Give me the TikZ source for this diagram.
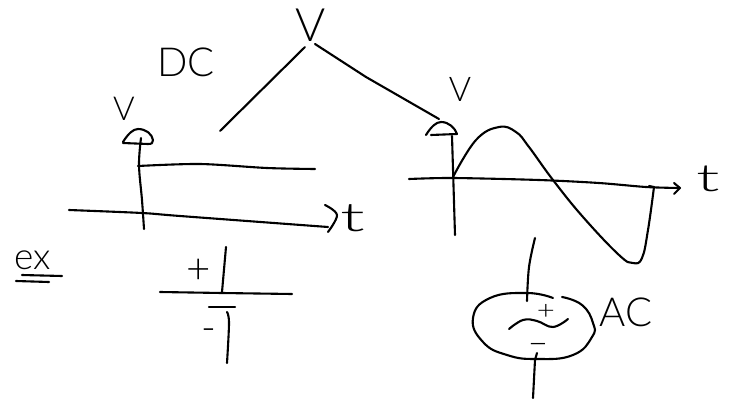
\documentclass[tikz,border=0pt]{standalone}
\usepackage{fontspec}
\setmainfont{Lato Light}
\tikzset{
  ink/.style={line width=2.1pt,line cap=round,line join=round,black},
  label/.style={inner sep=0pt,outer sep=0pt,text=black},
}
\newcommand{\fs}[1]{\fontsize{#1}{#1}\selectfont}
\begin{document}
\begin{tikzpicture}[x=1pt,y=-1pt]
\useasboundingbox (0,0) rectangle (732,399);
% labels
\node[label] (vtop) at (311,25) {\fs{46}V};
\node[label] (dc) at (186,62) {\fs{40}DC};
\node[label] (vleft) at (124,109) {\fs{33}V};
\node[label] (vright) at (460,89) {\fs{34}V};
\node[label] (tleft) at (353,218) {\fs{40}\scalebox{1.8}[1]{t}};
\node[label] (tright) at (708,179) {\fs{38}\scalebox{1.8}[1]{t}};
\node[label] (ex) at (33,260) {\fs{37}ex};
\node[label] (plusb) at (199,271) {\fs{42}+};
\node[label] (minusb) at (208.5,335) {\fs{40}-};
\node[label] (plusa) at (546,312) {\fs{26}\scalebox{1.2}[1]{+}};
\node[label] (minusa) at (538,349) {\fs{36}–};
\node[label] (ac) at (626,312) {\fs{40}AC};
% tree branches
\draw[ink] (305,47) -- (220,131);
\draw[ink] (315,44) -- (366,77) -- (439,119);
% ex underline
\draw[ink] (22,275) -- (62,276);
\draw[ink] (16,281) -- (49,282);
% DC plot
\draw[ink] (123,142) .. controls (128,134) and (133,129) .. (138,129) .. controls (146,129) and (152,134) .. (153,140) .. controls (153,143) and (152,144) .. (148,144) -- (123,143);
\draw[ink] plot[smooth,tension=0.6] coordinates {(141,138) (139,165) (142,200) (144,229)};
\draw[ink] plot[smooth,tension=0.5] coordinates {(138,166) (200,164) (267,168) (315,169)};
\draw[ink] plot[smooth,tension=0.5] coordinates {(69,210) (142,213) (180,216) (328,227)};
\draw[ink] plot[smooth,tension=0.6] coordinates {(325,205) (337,215) (328,232)};
% AC plot
\draw[ink] (426,135) .. controls (431,127) and (436,122) .. (441,122) .. controls (449,122) and (455,128) .. (457,134) -- (431,135);
\draw[ink] (452,136) -- (455,235);
\draw[ink] plot[smooth,tension=0.5] coordinates {(409,179) (453,178) (539,180) (599,183) (646,187) (679,188)};
\draw[ink] (674,183) -- (680,188) -- (674,194);
\draw[ink] plot[smooth,tension=0.7] coordinates {(453,177) (476,140) (499,127) (516,132) (529,147) (553,180) (583,217) (619,255) (633,263) (642,258) (648,230) (654,187)};
\draw[ink] (649,186) -- (654,187);
% battery
\draw[ink] (226,247) -- (222,292);
\draw[ink] (160,292) -- (222,293) -- (292,294);
\draw[ink] (209,307) -- (235,307);
\draw[ink] plot[smooth,tension=0.6] coordinates {(227,312) (229,323) (227,363)};
% AC source
\draw[ink] plot[smooth,tension=0.6] coordinates {(535,238) (529,267) (527,301)};
\draw[ink] plot[smooth,tension=0.8] coordinates {(553,298) (527,293) (490,298) (473,318) (483,342) (507,355) (537,359) (573,355) (592,337) (593,323) (582,305) (562,297)};
\draw[ink] plot[smooth,tension=0.7] coordinates {(509,329) (523,320) (537,321) (553,327) (568,319)};
\draw[ink] (537,353) -- (535,360) -- (533,398);
\end{tikzpicture}
\end{document}
